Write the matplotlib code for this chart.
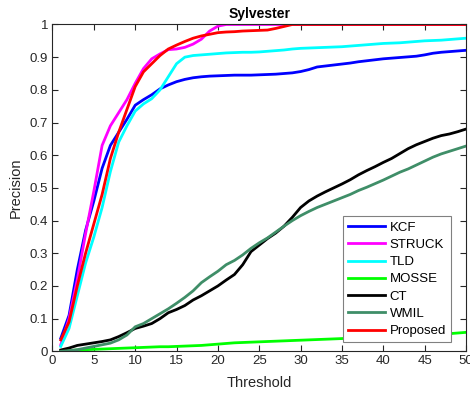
import numpy as np
import matplotlib
matplotlib.use("Agg")
import matplotlib.pyplot as plt

# ── data (precision vs location-error threshold) ────────────────────────────
thresholds = np.arange(1, 51)

kcf = [0.040, 0.110, 0.250, 0.370, 0.460, 0.560, 0.630, 0.670, 0.710, 0.753,
       0.770, 0.785, 0.803, 0.815, 0.825, 0.832, 0.837, 0.840, 0.842, 0.843,
       0.844, 0.845, 0.845, 0.845, 0.846, 0.847, 0.848, 0.850, 0.852, 0.856,
       0.862, 0.870, 0.873, 0.876, 0.879, 0.882, 0.886, 0.889, 0.892, 0.895,
       0.897, 0.899, 0.901, 0.903, 0.907, 0.912, 0.915, 0.917, 0.919, 0.921]

struck = [0.020, 0.100, 0.220, 0.360, 0.490, 0.630, 0.690, 0.730, 0.770, 0.820,
          0.865, 0.895, 0.910, 0.923, 0.925, 0.930, 0.940, 0.955, 0.980, 0.995,
          1.000, 1.000, 1.000, 1.000, 1.000, 1.000, 1.000, 1.000, 1.000, 1.000,
          1.000, 1.000, 1.000, 1.000, 1.000, 1.000, 1.000, 1.000, 1.000, 1.000,
          1.000, 1.000, 1.000, 1.000, 1.000, 1.000, 1.000, 1.000, 1.000, 1.000]

tld = [0.015, 0.070, 0.170, 0.270, 0.350, 0.440, 0.550, 0.640, 0.690, 0.735,
       0.757, 0.773, 0.800, 0.840, 0.880, 0.900, 0.905, 0.907, 0.909, 0.911,
       0.913, 0.914, 0.915, 0.915, 0.916, 0.918, 0.920, 0.922, 0.925, 0.927,
       0.928, 0.929, 0.930, 0.931, 0.932, 0.934, 0.936, 0.938, 0.940, 0.942,
       0.943, 0.944, 0.946, 0.948, 0.950, 0.951, 0.952, 0.954, 0.956, 0.958]

mosse = [0.000, 0.002, 0.004, 0.005, 0.006, 0.007, 0.008, 0.009, 0.010, 0.011,
         0.012, 0.013, 0.014, 0.014, 0.015, 0.016, 0.017, 0.018, 0.020, 0.022,
         0.024, 0.026, 0.027, 0.028, 0.029, 0.030, 0.031, 0.032, 0.033, 0.034,
         0.035, 0.036, 0.037, 0.038, 0.039, 0.040, 0.040, 0.041, 0.041, 0.042,
         0.043, 0.044, 0.045, 0.047, 0.048, 0.050, 0.052, 0.054, 0.056, 0.058]

ct = [0.004, 0.010, 0.018, 0.022, 0.026, 0.030, 0.035, 0.045, 0.057, 0.070,
      0.077, 0.085, 0.100, 0.118, 0.128, 0.140, 0.157, 0.170, 0.185, 0.200,
      0.218, 0.235, 0.265, 0.305, 0.325, 0.345, 0.362, 0.383, 0.410, 0.440,
      0.460, 0.475, 0.488, 0.500, 0.512, 0.525, 0.540, 0.553, 0.565, 0.578,
      0.590, 0.605, 0.620, 0.632, 0.642, 0.652, 0.660, 0.665, 0.672, 0.680]

wmil = [0.000, 0.002, 0.005, 0.010, 0.015, 0.020, 0.025, 0.035, 0.050, 0.075,
        0.085, 0.100, 0.115, 0.130, 0.147, 0.165, 0.185, 0.210, 0.228, 0.245,
        0.265, 0.278, 0.295, 0.315, 0.332, 0.347, 0.365, 0.383, 0.400, 0.415,
        0.428, 0.440, 0.450, 0.460, 0.470, 0.480, 0.492, 0.502, 0.513, 0.524,
        0.536, 0.548, 0.558, 0.570, 0.582, 0.594, 0.604, 0.612, 0.620, 0.628]

proposed = [0.035, 0.090, 0.200, 0.300, 0.390, 0.480, 0.590, 0.670, 0.740, 0.810,
            0.855, 0.880, 0.905, 0.925, 0.937, 0.948, 0.958, 0.965, 0.970, 0.975,
            0.977, 0.978, 0.980, 0.981, 0.982, 0.983, 0.988, 0.994, 1.000, 1.000,
            1.000, 1.000, 1.000, 1.000, 1.000, 1.000, 1.000, 1.000, 1.000, 1.000,
            1.000, 1.000, 1.000, 1.000, 1.000, 1.000, 1.000, 1.000, 1.000, 1.000]

names  = ["KCF", "STRUCK", "TLD", "MOSSE", "CT", "WMIL", "Proposed"]
series = [kcf, struck, tld, mosse, ct, wmil, proposed]
colors = ["#0000FF", "#FF00FF", "#00FFFF", "#00FF00", "#000000", "#3F8E68", "#FF0000"]

xticks = np.arange(0, 51, 5)
yticks = np.round(np.arange(0, 1.01, 0.1), 1)
ytick_labels = ["0"] + [f"{v:.1f}" for v in yticks[1:-1]] + ["1"]

# ── plot ──────────────────────────────────────────────────────────────────────
plt.rcParams["font.family"] = ["Liberation Sans", "DejaVu Sans"]
axis_gray = "#262626"

fig = plt.figure(figsize=(4.7, 3.95), dpi=100)
ax = fig.add_axes([0.1117, 0.1106, 0.8798, 0.8274])

for name, vals, c in zip(names, series, colors):
    ax.plot(thresholds, vals, color=c, linewidth=2.0, label=name,
            solid_joinstyle="round")

ax.set_xlim(0, 50)
ax.set_ylim(0, 1)
ax.set_xticks(xticks)
ax.set_yticks(yticks)
ax.set_yticklabels(ytick_labels)
ax.tick_params(direction="in", top=True, right=True, length=4, width=0.8,
               labelsize=9.5, colors=axis_gray, pad=3)
for sp in ax.spines.values():
    sp.set_color(axis_gray)
    sp.set_linewidth(0.8)

ax.set_xlabel("Threshold", fontsize=10.5, color=axis_gray, labelpad=6)
ax.set_ylabel("Precision", fontsize=10.5, color=axis_gray, labelpad=5)
ax.set_title("Sylvester", fontsize=10, fontweight="bold", pad=5)

leg = ax.legend(loc="lower right", bbox_to_anchor=(0.964, 0.027),
                borderaxespad=0, fontsize=9.5,
                handlelength=2.8, handletextpad=0.35, labelspacing=0.38,
                borderpad=0.4, fancybox=False, framealpha=1)
leg.get_frame().set_edgecolor("#808080")
leg.get_frame().set_linewidth(0.8)

plt.savefig("out.png", dpi=100)
